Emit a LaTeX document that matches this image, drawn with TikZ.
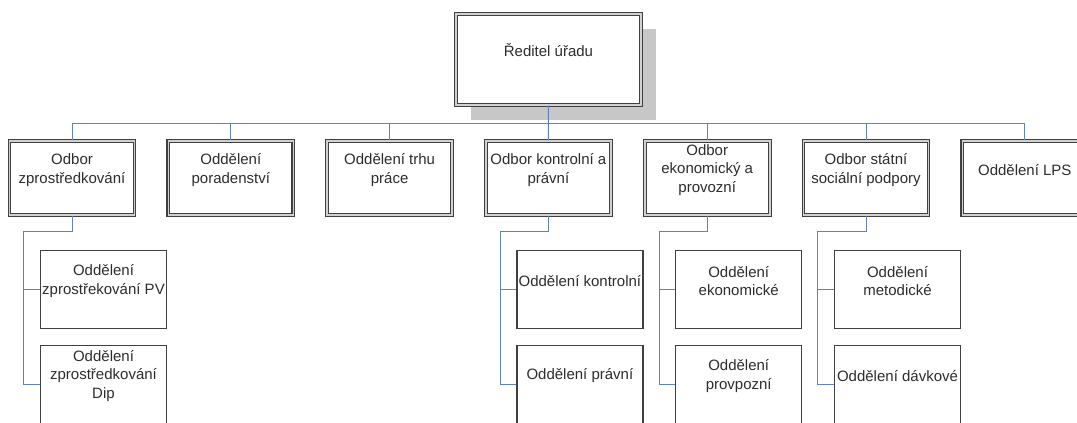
\documentclass[tikz,border=0pt]{standalone}
\usepackage{fontspec}
\setmainfont{Liberation Sans}
\usetikzlibrary{shadows}
\definecolor{conncol}{RGB}{95,130,190}
\definecolor{boxcol}{RGB}{64,64,64}
\definecolor{txtcol}{RGB}{45,45,45}

\begin{document}
\begin{tikzpicture}[x=1pt,y=-1pt,
  every node/.style={font=\fontsize{15}{18.5}\selectfont,text=txtcol},
  dbox/.style={draw=boxcol,line width=1.1pt,double=black!18,double distance=1.6pt,fill=white,
    minimum width=125pt,minimum height=74pt,inner sep=0pt},
  sbox/.style={draw=boxcol,line width=1.3pt,fill=white,minimum width=126pt,minimum height=78pt,inner sep=0pt},
  txt/.style={align=center,inner sep=0pt},
  conn/.style={draw=conncol,line width=1pt}]
\useasboundingbox (0,0) rectangle (1077,423);

% director
\node[dbox,minimum width=185pt,minimum height=91pt,
  drop shadow={shadow xshift=15pt,shadow yshift=-15pt,opacity=1,fill=black!22}] (ur) at (548.5,59.5) {};
\node[txt] (urT) at ([yshift=9.5pt]ur.center) {Ředitel úřadu};

% departments
\node[dbox] (zpr) at (72,178) {};
\node[dbox] (por) at (230.8,178) {};
\node[dbox] (trh) at (389.6,178) {};
\node[dbox] (kon) at (548.4,178) {};
\node[dbox] (eko) at (707.2,178) {};
\node[dbox] (ssp) at (866,178) {};
\node[dbox] (lps) at (1024.8,178) {};
\node[txt] (zprT) at ([yshift=8pt]zpr.center) {Odbor\\zprostředkování};
\node[txt] (porT) at ([yshift=8pt]por.center) {Oddělení\\poradenství};
\node[txt] (trhT) at ([yshift=8pt]trh.center) {Oddělení trhu\\práce};
\node[txt] (konT) at ([yshift=8pt]kon.center) {Odbor kontrolní a\\právní};
\node[txt] (ekoT) at ([yshift=8pt]eko.center) {Odbor\\ekonomický a\\provozní};
\node[txt] (sspT) at ([yshift=8pt]ssp.center) {Odbor státní\\sociální podpory};
\node[txt] (lpsT) at ([yshift=8pt]lps.center) {Oddělení LPS};

% sections (upper row a, lower row b)
\node[sbox] (zpra) at (103.5,289.5) {};
\node[sbox] (zprb) at (103.5,384.5) {};
\node[sbox] (kona) at (579.9,289.5) {};
\node[sbox] (konb) at (579.9,384.5) {};
\node[sbox] (ekoa) at (738.7,289.5) {};
\node[sbox] (ekob) at (738.7,384.5) {};
\node[sbox] (sspa) at (897.5,289.5) {};
\node[sbox] (sspb) at (897.5,384.5) {};
\node[txt] (zpraT) at ([yshift=8.5pt]zpra.center) {Oddělení\\zprostřekování PV};
\node[txt] (zprbT) at ([yshift=8.5pt]zprb.center) {Oddělení\\zprostředkování\\Dip};
\node[txt] (konaT) at ([yshift=8.5pt]kona.center) {Oddělení kontrolní};
\node[txt] (konbT) at ([yshift=8.5pt]konb.center) {Oddělení právní};
\node[txt] (ekoaT) at ([yshift=8.5pt]ekoa.center) {Oddělení\\ekonomické};
\node[txt] (ekobT) at ([yshift=8.5pt]ekob.center) {Oddělení\\provpozní};
\node[txt] (sspaT) at ([yshift=8.5pt]sspa.center) {Oddělení\\metodické};
\node[txt] (sspbT) at ([yshift=8.5pt]sspb.center) {Oddělení dávkové};

% connectors
\coordinate (bus) at (548.4,123);
\draw[conn] (ur) -- (kon);
\foreach \n in {zpr,por,trh,eko,ssp,lps}
  \draw[conn] (bus) -| (\n.north);
\foreach \p in {zpr,kon,eko,ssp}{
  \draw[conn] (\p.south) -- ++(0,16) -| ([xshift=-16pt]\p b.west) -- (\p b.west);
  \draw[conn] (\p a.west) -- ++(-16,0);
}
\end{tikzpicture}
\end{document}
